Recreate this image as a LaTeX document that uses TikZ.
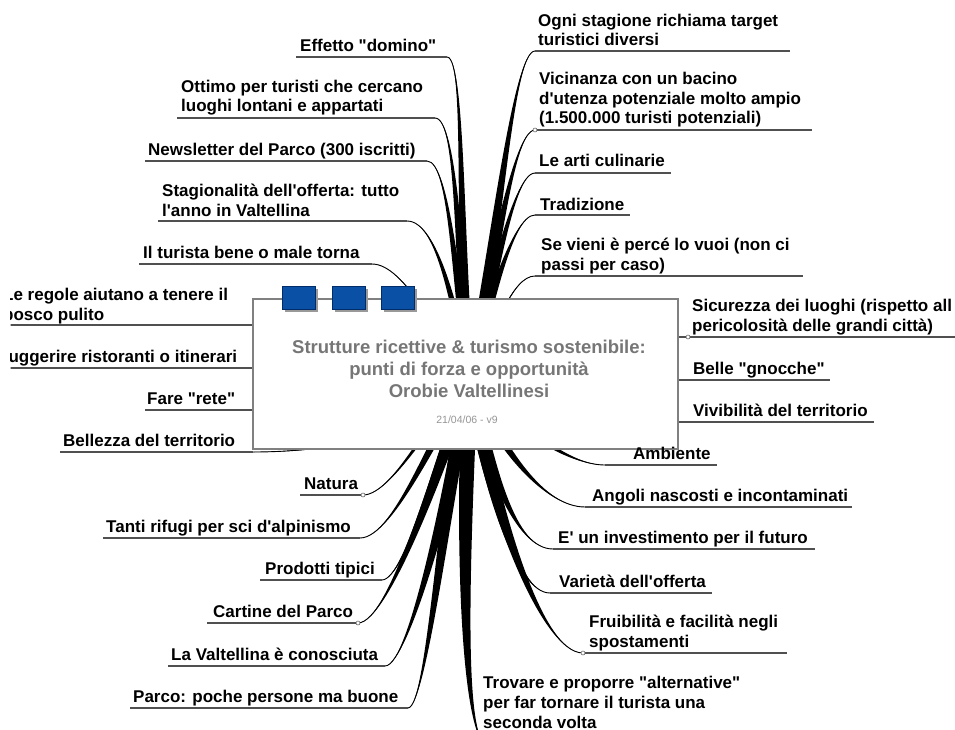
\documentclass[tikz,border=0pt]{standalone}
\usepackage{fontspec}
\newfontfamily\labfont{Liberation Sans}[Ligatures=NoCommon]
\usetikzlibrary{calc,shadows}
\definecolor{ulinec}{RGB}{80,80,80}
\definecolor{boxc}{RGB}{128,128,128}
\definecolor{titlec}{RGB}{118,118,118}
\definecolor{datec}{RGB}{150,150,150}
\definecolor{sqc}{RGB}{10,80,165}
\definecolor{sqd}{RGB}{0,45,105}
\newcommand\tbranch[6]{%
  \fill[branchfill] ($(#1)+(#5,#6)$) .. controls ($(#2)+(#5,#6)$) and (#3) .. (#4)
     .. controls (#3) and ($(#2)-(#5,#6)$) .. ($(#1)-(#5,#6)$) -- cycle;
  \draw[branchline] (#1) .. controls (#2) and (#3) .. (#4);
}
\tikzset{
  lab/.style={inner sep=0pt, anchor=base west, font=\labfont\bfseries\fontsize{17}{19.7}\selectfont},
  uline/.style={draw=ulinec, line width=1.3pt},
  branchfill/.style={fill=black},
  branchline/.style={draw=black, line width=0.9pt},
  centerbox/.style={draw=boxc, line width=1.3pt, fill=white, minimum width=425pt, minimum height=150pt, inner sep=0pt},
  sq/.style={draw=sqd, fill=sqc, line width=0.6pt, minimum width=33pt, minimum height=23pt, inner sep=0pt,
     drop shadow={shadow xshift=2.5pt, shadow yshift=-2.5pt, fill=black!40, opacity=1}},
  dot/.style={circle, draw=ulinec, fill=white, inner sep=0pt, minimum size=4pt, line width=0.5pt},
}
\begin{document}
\begin{tikzpicture}[x=1pt,y=-1pt]
\useasboundingbox (0,0) rectangle (955,730);
\begin{scope}
\clip (10.5,-20) rectangle (960,740);
\coordinate (hub) at (470,380);
% attach points
\coordinate (a1) at (447,57);
\coordinate (a2) at (435,118);
\coordinate (a3) at (427,161);
\coordinate (a4) at (407,221);
\coordinate (a5) at (372,264);
\coordinate (a6) at (253,325);
\coordinate (a7) at (253,368);
\coordinate (a8) at (253,410);
\coordinate (a9) at (253,452);
\coordinate (a10) at (363,495);
\coordinate (a11) at (360,538);
\coordinate (a12) at (382,580);
\coordinate (a13) at (358,623);
\coordinate (a14) at (385,666);
\coordinate (a15) at (408,708);
\coordinate (a16) at (490,748);
\coordinate (b1) at (535,51);
\coordinate (b2) at (535,130);
\coordinate (b3) at (535,173);
\coordinate (b4) at (535,215);
\coordinate (b5) at (535,276);
\coordinate (b6) at (678,337);
\coordinate (b7) at (678,380);
\coordinate (b8) at (678,422);
\coordinate (b9) at (605,465);
\coordinate (b10) at (585,507);
\coordinate (b11) at (553,549);
\coordinate (b12) at (550,593);
\coordinate (b13) at (583,653);
% branches top-left
\tbranch{hub}{458,250}{466,57}{a1}{5}{0}
\tbranch{hub}{458,270}{458,118}{a2}{5}{0}
\tbranch{hub}{456,290}{450,161}{a3}{4.5}{0}
\tbranch{hub}{455,310}{438,221}{a4}{4}{0}
\tbranch{hub}{440,340}{405,264}{a5}{1.5}{0}
% left box side
\tbranch{hub}{400,340}{300,325}{a6}{0}{2}
\tbranch{hub}{400,370}{300,368}{a7}{0}{2}
\tbranch{hub}{400,400}{300,410}{a8}{0}{2}
\tbranch{hub}{420,440}{320,452}{a9}{0}{3}
% bottom-left
\tbranch{hub}{440,400}{395,495}{a10}{4}{0}
\tbranch{hub}{440,420}{395,538}{a11}{5.5}{0}
\tbranch{hub}{445,440}{405,580}{a12}{6}{0}
\tbranch{hub}{445,450}{390,623}{a13}{7}{0}
\tbranch{hub}{455,470}{410,666}{a14}{7.5}{0}
\tbranch{hub}{450,450}{428,708}{a15}{8}{0}
\tbranch{hub}{462,560}{462,748}{a16}{8}{0}
% top-right
\tbranch{hub}{495,260}{512,51}{b1}{6}{0}
\tbranch{hub}{492,280}{512,130}{b2}{6}{0}
\tbranch{hub}{490,300}{512,173}{b3}{5.5}{0}
\tbranch{hub}{488,310}{512,215}{b4}{5}{0}
\tbranch{hub}{495,330}{512,276}{b5}{1.5}{0}
% right box side
\tbranch{hub}{600,350}{660,337}{b6}{0}{2}
\tbranch{hub}{600,380}{660,380}{b7}{0}{2}
\tbranch{hub}{600,410}{660,422}{b8}{0}{2}
% bottom-right
\tbranch{hub}{530,440}{575,465}{b9}{3}{-3}
\tbranch{hub}{500,450}{545,507}{b10}{5.5}{0}
\tbranch{hub}{490,470}{515,549}{b11}{6}{0}
\tbranch{hub}{490,490}{515,593}{b12}{7}{0}
\tbranch{hub}{490,500}{540,653}{b13}{7.5}{0}
% underlines
\draw[uline] (296,57) -- (a1);
\draw[uline] (177,118) -- (a2);
\draw[uline] (145,161) -- (a3);
\draw[uline] (158,221) -- (a4);
\draw[uline] (139,264) -- (a5);
\draw[uline] (10,325) -- (a6);
\draw[uline] (10,368) -- (a7);
\draw[uline] (145,410) -- (a8);
\draw[uline] (60,452) -- (a9);
\draw[uline] (300,495) -- (a10);
\draw[uline] (103,538) -- (a11);
\draw[uline] (260,580) -- (a12);
\draw[uline] (207,623) -- (a13);
\draw[uline] (168,666) -- (a14);
\draw[uline] (130,708) -- (a15);
\draw[uline] (b1) -- (790,51);
\draw[uline] (b2) -- (812,130);
\draw[uline] (b3) -- (671,173);
\draw[uline] (b4) -- (630,215);
\draw[uline] (b5) -- (803,276);
\draw[uline] (b6) -- (960,337);
\draw[uline] (b7) -- (830,380);
\draw[uline] (b8) -- (874,422);
\draw[uline] (b9) -- (717,465);
\draw[uline] (b10) -- (852,507);
\draw[uline] (b11) -- (815,549);
\draw[uline] (b12) -- (712,593);
\draw[uline] (b13) -- (787,653);
% central box
\node[centerbox] (box) at (465.5,374) {};
\node[sq] (s1) at (298.5,297.5) {};
\node[sq] (s2) at (348.5,297.5) {};
\node[sq] (s3) at (398,297.5) {};
\node[anchor=base, inner sep=0pt, text=titlec, font=\labfont\bfseries\fontsize{18.5}{22}\selectfont] (title) at (469,397)
  {\begin{tabular}[b]{@{}c@{}}Strutture ricettive \& turismo sostenibile:\\punti di forza e opportunità\\Orobie Valtellinesi\end{tabular}};
\node[anchor=base, inner sep=0pt, text=datec, font=\labfont\fontsize{10.5}{12}\selectfont] (date) at (467,423) {21/04/06 - v9};
% labels
\node[lab] (l1) at (300,52) {Effetto "domino"};
\node[lab] (l2) at (181,112) {\begin{tabular}[b]{@{}l@{}}Ottimo per turisti che cercano\\luoghi lontani e appartati\end{tabular}};
\node[lab] (l3) at (148,156) {Newsletter del Parco (300 iscritti)};
\node[lab] (l4) at (162,216) {\begin{tabular}[b]{@{}l@{}}Stagionalità dell'offerta: tutto\\l'anno in Valtellina\end{tabular}};
\node[lab] (l5) at (143,258) {Il turista bene o male torna};
\node[lab] (l6) at (3,320) {\begin{tabular}[b]{@{}l@{}}Le regole aiutano a tenere il\\bosco pulito\end{tabular}};
\node[lab] (l7) at (-3,362.5) {Suggerire ristoranti o itinerari};
\node[lab] (l8) at (147,404) {Fare "rete"};
\node[lab] (l9) at (63,446) {Bellezza del territorio};
\node[lab] (l10) at (304,489) {Natura};
\node[lab] (l11) at (106,532) {Tanti rifugi per sci d'alpinismo};
\node[lab] (l12) at (265,574) {Prodotti tipici};
\node[lab] (l13) at (213,617) {Cartine del Parco};
\node[lab] (l14) at (171,660) {La Valtellina è conosciuta};
\node[lab] (l15) at (133,702) {Parco: poche persone ma buone};
\node[lab] (l16) at (483,728) {\begin{tabular}[b]{@{}l@{}}Trovare e proporre "alternative"\\per far tornare il turista una\\seconda volta\end{tabular}};
\node[lab] (r1) at (538,46) {\begin{tabular}[b]{@{}l@{}}Ogni stagione richiama target\\turistici diversi\end{tabular}};
\node[lab] (r2) at (539,124) {\begin{tabular}[b]{@{}l@{}}Vicinanza con un bacino\\d'utenza potenziale molto ampio\\(1.500.000 turisti potenziali)\end{tabular}};
\node[lab] (r3) at (539,167) {Le arti culinarie};
\node[lab] (r4) at (540,210) {Tradizione};
\node[lab] (r5) at (541,270) {\begin{tabular}[b]{@{}l@{}}Se vieni è percé lo vuoi (non ci\\passi per caso)\end{tabular}};
\node[lab] (r6) at (692,331) {\begin{tabular}[b]{@{}l@{}}Sicurezza dei luoghi (rispetto all\\pericolosità delle grandi città)\end{tabular}};
\node[lab] (r7) at (693,374) {Belle "gnocche"};
\node[lab] (r8) at (693,416) {Vivibilità del territorio};
\node[lab] (r9) at (633,459) {Ambiente};
\node[lab] (r10) at (592,501) {Angoli nascosti e incontaminati};
\node[lab] (r11) at (558,543) {E' un investimento per il futuro};
\node[lab] (r12) at (559,587) {Varietà dell'offerta};
\node[lab] (r13) at (589,647) {\begin{tabular}[b]{@{}l@{}}Fruibilità e facilità negli\\spostamenti\end{tabular}};
% junction dots
\node[dot] (d1) at (b2) {};
\node[dot] (d2) at (a10) {};
\node[dot] (d3) at (a13) {};
\node[dot] (d4) at (688,337) {};
\node[dot] (d5) at (b13) {};
\end{scope}
\end{tikzpicture}
\end{document}
